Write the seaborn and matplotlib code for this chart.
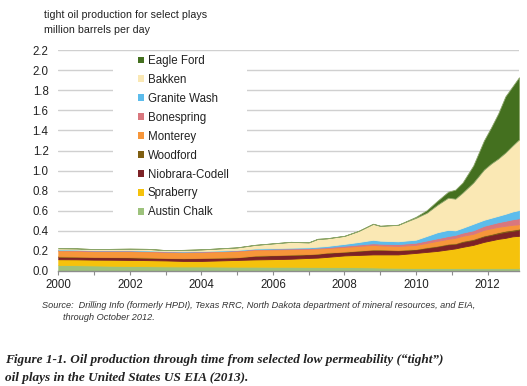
import numpy as np
import matplotlib
matplotlib.use("Agg")
import matplotlib.pyplot as plt
from matplotlib.patches import Patch, Rectangle
import seaborn as sns

# ---------------- data (million barrels per day) ----------------
years = [2000.0, 2000.5, 2001.0, 2001.5, 2002.0, 2002.5, 2003.0, 2003.5, 2004.0, 2004.5,
         2005.0, 2005.5, 2006.0, 2006.5, 2007.0, 2007.25, 2007.5, 2008.0, 2008.4, 2008.8,
         2009.0, 2009.5, 2010.0, 2010.3, 2010.6, 2010.9, 2011.1, 2011.3, 2011.6, 2011.9,
         2012.1, 2012.3, 2012.5, 2012.7, 2012.88]

austin_chalk = [0.060, 0.058, 0.055, 0.052, 0.050, 0.048, 0.046, 0.045, 0.045, 0.044,
                0.043, 0.043, 0.042, 0.042, 0.041, 0.041, 0.040, 0.040, 0.038, 0.036,
                0.034, 0.032, 0.030, 0.030, 0.030, 0.029, 0.029, 0.029, 0.028, 0.028,
                0.028, 0.028, 0.028, 0.028, 0.028]
spraberry = [0.057, 0.058, 0.058, 0.060, 0.060, 0.060, 0.059, 0.055, 0.055, 0.061,
             0.067, 0.072, 0.076, 0.080, 0.089, 0.092, 0.100, 0.115, 0.122, 0.129,
             0.131, 0.133, 0.150, 0.160, 0.170, 0.186, 0.196, 0.211, 0.232, 0.262,
             0.277, 0.292, 0.302, 0.317, 0.322]
niobrara_codell = [0.026, 0.025, 0.025, 0.025, 0.025, 0.024, 0.023, 0.025, 0.028, 0.026,
                   0.025, 0.035, 0.037, 0.038, 0.035, 0.037, 0.040, 0.035, 0.040, 0.045,
                   0.045, 0.040, 0.035, 0.040, 0.045, 0.050, 0.045, 0.050, 0.050, 0.055,
                   0.055, 0.055, 0.060, 0.055, 0.060]
woodford = [0.003, 0.003, 0.003, 0.003, 0.003, 0.003, 0.003, 0.003, 0.003, 0.003,
            0.003, 0.004, 0.004, 0.004, 0.004, 0.004, 0.004, 0.004, 0.005, 0.005,
            0.005, 0.005, 0.005, 0.007, 0.007, 0.007, 0.007, 0.009, 0.009, 0.009,
            0.009, 0.012, 0.012, 0.012, 0.012]
monterey = [0.059, 0.059, 0.057, 0.058, 0.060, 0.060, 0.059, 0.060, 0.059, 0.061,
            0.062, 0.059, 0.056, 0.054, 0.051, 0.050, 0.044, 0.046, 0.045, 0.045,
            0.040, 0.040, 0.040, 0.043, 0.048, 0.048, 0.053, 0.051, 0.051, 0.056,
            0.056, 0.053, 0.048, 0.048, 0.043]
bonespring = [0.006, 0.006, 0.006, 0.006, 0.006, 0.006, 0.005, 0.005, 0.005, 0.005,
              0.006, 0.006, 0.007, 0.007, 0.008, 0.008, 0.009, 0.012, 0.014, 0.016,
              0.017, 0.018, 0.022, 0.024, 0.026, 0.028, 0.030, 0.032, 0.035, 0.040,
              0.043, 0.046, 0.050, 0.055, 0.060]
granite_wash = [0.004, 0.004, 0.004, 0.004, 0.004, 0.004, 0.004, 0.004, 0.004, 0.004,
                0.004, 0.005, 0.006, 0.007, 0.008, 0.010, 0.012, 0.018, 0.025, 0.035,
                0.030, 0.028, 0.030, 0.045, 0.060, 0.062, 0.045, 0.048, 0.065, 0.060,
                0.062, 0.064, 0.070, 0.078, 0.082]
bakken = [0.012, 0.012, 0.010, 0.012, 0.014, 0.015, 0.009, 0.013, 0.016, 0.021,
          0.025, 0.036, 0.047, 0.058, 0.049, 0.078, 0.076, 0.080, 0.111, 0.159,
          0.148, 0.164, 0.218, 0.231, 0.274, 0.320, 0.315, 0.350, 0.410, 0.500,
          0.540, 0.570, 0.610, 0.657, 0.703]
eagle_ford = [0.0, 0.0, 0.0, 0.0, 0.0, 0.0, 0.0, 0.0, 0.0, 0.0,
              0.0, 0.0, 0.0, 0.0, 0.0, 0.0, 0.0, 0.0, 0.0, 0.0,
              0.0, 0.0, 0.010, 0.025, 0.040, 0.060, 0.090, 0.100, 0.170, 0.290,
              0.360, 0.450, 0.560, 0.590, 0.620]

plays = ["Austin Chalk", "Spraberry", "Niobrara-Codell", "Woodford", "Monterey",
         "Bonespring", "Granite Wash", "Bakken", "Eagle Ford"]
series = [austin_chalk, spraberry, niobrara_codell, woodford, monterey,
          bonespring, granite_wash, bakken, eagle_ford]
colors = ["#9dc27c", "#f5c20c", "#7d2226", "#7f5f12", "#f7963a",
          "#d9777e", "#5cbcec", "#fae8b4", "#44701f"]

y_ticks = [0.0, 0.2, 0.4, 0.6, 0.8, 1.0, 1.2, 1.4, 1.6, 1.8, 2.0, 2.2]
x_major = list(range(2000, 2013))
x_labels = [str(y) if y % 2 == 0 else "" for y in x_major]

# ---------------- style ----------------
sns.set_theme(style="white")
plt.rcParams["font.family"] = ["Liberation Sans", "DejaVu Sans"]

fig = plt.figure(figsize=(5.27, 3.86), dpi=100)
ax = fig.add_axes([0.1106, 0.298, 0.8742, 0.572])

polys = ax.stackplot(years, *series, colors=colors, labels=plays, zorder=2)
for p, c in zip(polys, colors):
    p.set_edgecolor(c)
    p.set_linewidth(0.6)
polys[-1].set_edgecolor("#8aa468")
polys[-1].set_linewidth(0.6)

ax.set_xlim(2000, 2012.88)
ax.set_ylim(0, 2.2)
ax.set_yticks(y_ticks)
ax.set_yticklabels([f"{v:.1f}" for v in y_ticks])
ax.set_xticks(x_major)
ax.set_xticklabels(x_labels)

ax.grid(axis="y", color="#d0d0d0", linewidth=1.0, zorder=0)
ax.set_axisbelow(True)
for s in ["top", "right", "left"]:
    ax.spines[s].set_visible(False)
ax.spines["bottom"].set_color("#8c8c8c")
ax.spines["bottom"].set_linewidth(1.0)
ax.spines["bottom"].set_zorder(3)
ax.tick_params(axis="y", length=0, pad=7, labelsize=8.3, labelcolor="#222222")
ax.tick_params(axis="x", length=3, width=0.8, color="#8c8c8c", direction="out",
               pad=3, labelsize=8.3, labelcolor="#222222", bottom=True)

# white legend background that interrupts the gridlines
ax.add_patch(Rectangle((0.119, 0.225), 0.291, 0.75, transform=ax.transAxes,
                       facecolor="white", edgecolor="none", zorder=1))

handles = [Patch(facecolor=c, edgecolor="none") for c in colors][::-1]
leg = ax.legend(handles, plays[::-1], loc="upper left", bbox_to_anchor=(0.16, 1.004),
                frameon=False, fontsize=8.3, handlelength=0.55, handleheight=0.55,
                handletextpad=0.3, labelspacing=0.6, borderpad=0.0)
for t in leg.get_texts():
    t.set_color("#222222")

fig.text(44 / 527, 1 - 15 / 386, "tight oil production for select plays",
         fontsize=7.7, color="#222222", va="center", ha="left")
fig.text(44 / 527, 1 - 30 / 386, "million barrels per day",
         fontsize=7.7, color="#222222", va="center", ha="left")

fig.text(42 / 527, 1 - 305 / 386,
         "Source:  Drilling Info (formerly HPDI), Texas RRC, North Dakota department of mineral resources, and EIA,",
         fontsize=6.6, style="italic", color="#333333", va="center", ha="left")
fig.text(63 / 527, 1 - 318 / 386, "through October 2012.",
         fontsize=6.6, style="italic", color="#333333", va="center", ha="left")

cap_font = ["Liberation Serif", "DejaVu Serif"]
fig.text(5 / 527, 1 - 360 / 386,
         "Figure 1-1. Oil production through time from selected low permeability (\u201ctight\u201d)",
         fontsize=9.5, style="italic", weight="bold", family=cap_font,
         color="#222222", va="center", ha="left")
fig.text(5 / 527, 1 - 378 / 386,
         "oil plays in the United States US EIA (2013).",
         fontsize=9.5, style="italic", weight="bold", family=cap_font,
         color="#222222", va="center", ha="left")

fig.savefig("out.png", dpi=100)
